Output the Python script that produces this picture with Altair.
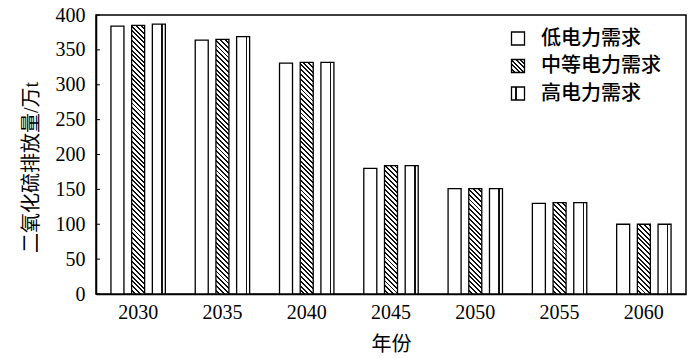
import math
import altair as alt
import pandas as pd

# ---- data ----
years = ["2030", "2035", "2040", "2045", "2050", "2055", "2060"]
scenarios = ["低电力需求", "中等电力需求", "高电力需求"]
low = [384, 364, 331, 180, 151, 130, 100]
mid = [385, 365, 332, 184, 151, 131, 100]
high = [387, 369, 332, 184, 151, 131, 100]
y_ticks = [0, 50, 100, 150, 200, 250, 300, 350, 400]

# ---- layout / style ----
PLOT_W, PLOT_H = 590, 279
YMAX = 400
BAR_W = 13
SW = 1.3
CJK = "Noto Sans CJK SC"
SERIF = "Liberation Serif"

rows = []
for s, vals in zip(scenarios, [low, mid, high]):
    for yr, v in zip(years, vals):
        rows.append({"year": yr, "scenario": s, "value": v})
df = pd.DataFrame(rows)


def hatch(h, w, period=3.4, dark_frac=0.4, dark="#111111"):
    """Diagonal '\\' stripes as a bounding-box linear gradient."""
    r = h / w
    k = (1 + r) / (1 + r * r)
    length = (w + h) / math.sqrt(2)
    n = length / period
    stops = []
    i = 0
    while i / n < 1:
        a = i / n
        b = min((i + 1 - dark_frac) / n, 1)
        c = min((i + 1) / n, 1)
        stops += [alt.GradientStop(offset=a, color="white"),
                  alt.GradientStop(offset=b, color="white"),
                  alt.GradientStop(offset=b, color=dark),
                  alt.GradientStop(offset=c, color=dark)]
        i += 1
    return alt.LinearGradient(gradient="linear", stops=stops,
                              x1=0, y1=1, x2=k, y2=1 - k * r)


def vline(pos, width=0.11, dark="#111111"):
    a, b = pos - width / 2, pos + width / 2
    return alt.LinearGradient(gradient="linear", x1=0, y1=0, x2=1, y2=0, stops=[
        alt.GradientStop(offset=0, color="white"),
        alt.GradientStop(offset=a, color="white"),
        alt.GradientStop(offset=a, color=dark),
        alt.GradientStop(offset=b, color=dark),
        alt.GradientStop(offset=b, color="white"),
        alt.GradientStop(offset=1, color="white"),
    ])


y_scale = alt.Scale(domain=[0, YMAX], nice=False)
y_axis = alt.Axis(values=y_ticks, ticks=False, grid=False, labelPadding=11,
                  title="二氧化硫排放量/万t", titlePadding=14, titleY=152,
                  titleColor="#000000", titleFont=SERIF + ", " + CJK)

x_enc = alt.X("year:N", scale=alt.Scale(domain=years, paddingInner=0, paddingOuter=0),
              axis=alt.Axis(title="年份", labelAngle=0, ticks=False, labelPadding=8,
                            titlePadding=12, titleFont=CJK))
xo_enc = alt.XOffset("scenario:N", scale=alt.Scale(domain=scenarios, paddingInner=0,
                                                    paddingOuter=0.536))
y_enc = alt.Y("value:Q", scale=y_scale, axis=y_axis)

layers = []
# low demand: plain white bars
layers.append(alt.Chart(df).transform_filter(alt.datum.scenario == scenarios[0])
              .mark_bar(size=BAR_W, fill="white", stroke="black", strokeWidth=SW)
              .encode(x=x_enc, xOffset=xo_enc, y=y_enc))
# medium demand: hatched bars (one layer per bar so the stripes stay at 45 degrees)
for yr, v in zip(years, mid):
    h = v / YMAX * PLOT_H
    layers.append(alt.Chart(df)
                  .transform_filter((alt.datum.scenario == scenarios[1]) & (alt.datum.year == yr))
                  .mark_bar(size=BAR_W, fill=hatch(h, BAR_W), stroke="black", strokeWidth=SW)
                  .encode(x=x_enc, xOffset=xo_enc, y=y_enc))
# high demand: white bars with an inner vertical line
layers.append(alt.Chart(df).transform_filter(alt.datum.scenario == scenarios[2])
              .mark_bar(size=BAR_W, fill=vline(0.74), stroke="black", strokeWidth=SW)
              .encode(x=x_enc, xOffset=xo_enc, y=y_enc))

# inward y ticks (same scale and axis as the bars)
layers.append(alt.Chart(pd.DataFrame({"value": y_ticks})).mark_rule(color="black", strokeWidth=1)
              .encode(y=y_enc, x=alt.value(0), x2=alt.value(4)))

# legend
leg_df = pd.DataFrame({"scenario": scenarios})
leg_fills = ["white", hatch(BAR_W, BAR_W, period=3.2), vline(0.34, width=0.13)]
LEG_X, LEG_Y0, LEG_DY = 422, 23.5, 27.5
for i, (s, f) in enumerate(zip(scenarios, leg_fills)):
    layers.append(alt.Chart(leg_df).transform_filter(alt.datum.scenario == s)
                  .mark_square(size=BAR_W * BAR_W, fill=f, stroke="black", strokeWidth=SW,
                               opacity=1, fillOpacity=1)
                  .encode(x=alt.value(LEG_X), y=alt.value(LEG_Y0 + LEG_DY * i)))
    layers.append(alt.Chart(leg_df).transform_filter(alt.datum.scenario == s)
                  .mark_text(align="left", baseline="middle", font=CJK, fontSize=20,
                             fontWeight=500, color="black")
                  .encode(x=alt.value(LEG_X + 23), y=alt.value(LEG_Y0 + LEG_DY * i), text="scenario:N"))

chart = (alt.layer(*layers)
         .properties(width=PLOT_W, height=PLOT_H,
                     padding={"left": 88, "top": 7, "right": 6, "bottom": 62},
                     autosize=alt.AutoSizeParams(type="none"))
         .configure_view(stroke="black", strokeWidth=1.5)
         .configure_axis(domainColor="black", domainWidth=1.5, labelColor="black",
                         titleColor="black", labelFont=SERIF, labelFontSize=20,
                         titleFontSize=20, titleFontWeight="normal"))

chart.save("out.html", embed_options={"renderer": "svg", "actions": False})
